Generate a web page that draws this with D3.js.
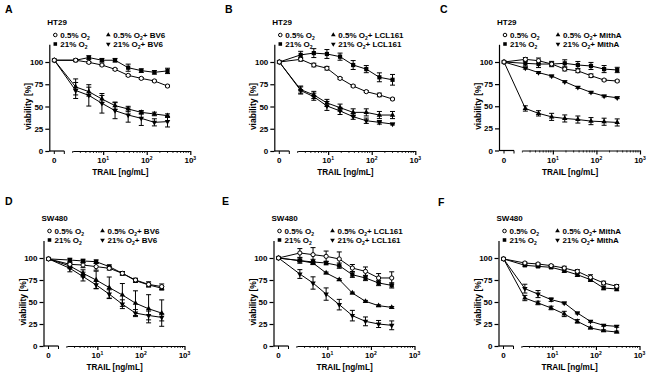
<!DOCTYPE html>
<html>
<head>
<meta charset="utf-8">
<script src="https://cdn.jsdelivr.net/npm/d3@7/dist/d3.min.js"></script>
<style>
  body { margin: 0; background: #fff; }
  svg text { font-family: "Liberation Sans", Arial, sans-serif; font-weight: bold; fill: #000; }
</style>
</head>
<body>
<svg width="650" height="376"></svg>
<script>
// TRAIL doses, ng/mL (0 = untreated)
var doses = [0, 2.34, 4.69, 9.375, 18.75, 37.5, 75, 150, 300];
var yTicks = [0, 25, 50, 75, 100];
var xMajor = [10, 100, 1000];
var xSup = ["1", "2", "3"];

// series order: 0.5% O2, 21% O2, 0.5% O2 + drug, 21% O2 + drug
var meanA = [
  [102, 102, 99.6, 96.6, 91.8, 85, 81.6, 78.7, 73],
  [102, 102, 105, 102, 102, 93.6, 90.3, 88.4, 90],
  [102, 72, 66.7, 58.4, 51, 47.2, 43.4, 41.6, 39.7],
  [102, 68, 62.5, 53.6, 45.3, 40.4, 36.7, 32.2, 33]
];
var errA = [
  [0, 1, 1, 1, 1, 1, 1, 1, 1],
  [0, 1, 2, 2, 2, 4, 2, 2, 3],
  [0, 9, 5, 4, 4, 3, 2, 2, 2],
  [0, 9, 12, 11, 9, 8, 8, 4, 6]
];
var meanB = [
  [100, 103, 96.6, 93, 81.6, 73, 66.7, 63, 58.4],
  [100, 108, 110, 109, 106, 96.6, 92, 82.8, 80],
  [100, 69, 63, 54, 48.7, 43.4, 43.4, 40.4, 40.4],
  [100, 68, 61, 50.6, 45, 38.6, 34, 32.2, 30.3]
];
var errB = [
  [0, 2, 2, 2, 1, 1, 1, 2, 1],
  [0, 4, 5, 5, 4, 5, 4, 5, 6],
  [0, 4, 4, 4, 4, 4, 4, 4, 4],
  [0, 4, 4, 5, 4, 3, 3, 2, 1]
];
var meanC = [
  [100, 103, 101.5, 97.7, 92, 90, 84.5, 79.6, 78.5],
  [100, 98.5, 97.7, 97.7, 98.5, 96.6, 95.5, 92, 91],
  [100, 47.5, 42, 38, 36.2, 35, 33.2, 32.5, 31.7],
  [100, 93, 88, 84.2, 77.7, 71.3, 65.7, 61.5, 59.6]
];
var errC = [
  [0, 2, 3, 2, 2, 2, 2, 1, 1],
  [0, 3, 4, 3, 4, 4, 4, 4, 3],
  [0, 3, 3, 4, 4, 4, 4, 4, 4],
  [0, 1, 1, 1, 1, 1, 1, 1, 1]
];
var meanD = [
  [99, 92.8, 92, 90.2, 88.3, 82.6, 75, 70, 67.5],
  [99, 97.7, 96.6, 95.8, 90.2, 82.6, 74.3, 69.4, 65.7],
  [99, 90.9, 82.6, 75, 66.4, 58, 48.7, 42.3, 37.4],
  [99, 88.3, 78.9, 69.4, 58.9, 47.5, 37.4, 34.7, 32.5]
];
var errD = [
  [0, 2, 3, 4, 2, 2, 2, 3, 3],
  [0, 2, 2, 2, 2, 2, 2, 2, 2],
  [0, 3, 4, 10, 12, 13, 14, 16, 15],
  [0, 4, 5, 4, 5, 5, 4, 5, 4]
];
var meanE = [
  [100, 105.7, 103.8, 101.9, 98.9, 88.6, 84.8, 77.3, 77.3],
  [100, 97, 95.5, 94.3, 91.3, 81, 77.3, 71.6, 68.9],
  [100, 97, 94.3, 83, 75.4, 60.2, 50.8, 45.8, 43.9],
  [100, 81.8, 71.6, 59, 47, 34.5, 28, 25, 23.5]
];
var errE = [
  [0, 5, 8, 6, 8, 4, 5, 5, 7],
  [0, 3, 3, 2, 3, 3, 3, 3, 3],
  [0, 1, 1, 1, 1, 1, 1, 1, 1],
  [0, 5, 7, 7, 6, 6, 5, 4, 5]
];
var meanF = [
  [99, 94.3, 93.2, 91.3, 88.6, 84.8, 78, 71.6, 67.8],
  [99, 91.7, 90.5, 89.4, 85.6, 81, 75.4, 65.9, 64.8],
  [99, 54.5, 48.9, 43.2, 36.4, 28, 20.5, 17.4, 15.9],
  [99, 65.2, 59, 52.7, 48.9, 37.5, 28, 23.5, 22.3]
];
var errF = [
  [0, 1, 1, 1, 2, 2, 3, 2, 2],
  [0, 1, 1, 1, 2, 2, 2, 2, 2],
  [0, 3, 2, 2, 3, 2, 1, 1, 1],
  [0, 5, 4, 2, 1, 1, 1, 1, 1]
];

var panels = [
  {id: "A", cell: "HT29", drug: "BV6", mean: meanA, err: errA, x0: 49.3, y100: 62, y0: 151, lx: 5, ly: 13},
  {id: "B", cell: "HT29", drug: "LCL161", mean: meanB, err: errB, x0: 274.3, y100: 62, y0: 151, lx: 225, ly: 13},
  {id: "C", cell: "HT29", drug: "MithA", mean: meanC, err: errC, x0: 499, y100: 62, y0: 150.5, lx: 440, ly: 13},
  {id: "D", cell: "SW480", drug: "BV6", mean: meanD, err: errD, x0: 43.5, y100: 258, y0: 346, lx: 5, ly: 205},
  {id: "E", cell: "SW480", drug: "LCL161", mean: meanE, err: errE, x0: 273.5, y100: 258, y0: 346, lx: 222, ly: 205},
  {id: "F", cell: "SW480", drug: "MithA", mean: meanF, err: errF, x0: 498.5, y100: 258, y0: 346, lx: 438, ly: 206}
];

var svg = d3.select("svg");

function marker(g, k, x, y, s) {
    if (k == 0) {
        g.append("circle").attr("cx", x).attr("cy", y).attr("r", 2.1 * s)
            .attr("fill", "#fff").attr("stroke", "#000").attr("stroke-width", 1);
    } else if (k == 1) {
        g.append("rect").attr("x", x - 2.1 * s).attr("y", y - 2.1 * s)
            .attr("width", 4.2 * s).attr("height", 4.2 * s).attr("fill", "#000");
    } else {
        g.append("path")
            .attr("d", d3.symbol().type(d3.symbolTriangle).size(13 * s * s)())
            .attr("transform", "translate(" + x + "," + y + ")" + (k == 3 ? " rotate(180)" : ""))
            .attr("fill", "#000");
    }
}

function legendText(g, x, y, pre, post) {
    var t = g.append("text").attr("x", x).attr("y", y).attr("font-size", 8);
    t.append("tspan").text(pre);
    t.append("tspan").attr("font-size", 5).attr("dy", 2).text("2");
    t.append("tspan").attr("dy", -2).text(post);
}

panels.forEach(function (p) {
    var g = svg.append("g");

    var y = d3.scaleLinear().domain([0, 120])
        .range([p.y0, p.y0 - 1.2 * (p.y0 - p.y100)]);
    var xLog = d3.scaleLog().domain([2, 1000]).range([p.x0 + 23.4, p.x0 + 141]);
    var xZero = p.x0 + 5;
    function xPos(d) { return d === 0 ? xZero : xLog(d); }

    // y axis
    var yAxis = g.append("g").attr("transform", "translate(" + p.x0 + ",0)")
        .call(d3.axisLeft(y).tickValues(yTicks).tickSize(4).tickSizeOuter(0).tickPadding(2));
    yAxis.selectAll("text").attr("font-size", 8).attr("font-family", null).attr("font-weight", "bold");
    yAxis.selectAll("path,line").attr("stroke", "#000").attr("stroke-width", 1.2);

    // x axis, zero segment
    g.append("line").attr("x1", p.x0).attr("x2", p.x0 + 15).attr("y1", p.y0).attr("y2", p.y0)
        .attr("stroke", "#000").attr("stroke-width", 1.2);
    [xZero, p.x0 + 15].forEach(function (v) {
        g.append("line").attr("x1", v).attr("x2", v).attr("y1", p.y0).attr("y2", p.y0 + 3)
            .attr("stroke", "#000").attr("stroke-width", 1);
    });
    g.append("text").attr("x", xZero).attr("y", p.y0 + 12).attr("text-anchor", "middle")
        .attr("font-size", 8).text("0");

    // x axis, log segment
    var xAxis = g.append("g").attr("transform", "translate(0," + p.y0 + ")")
        .call(d3.axisBottom(xLog).tickValues(xMajor).tickSize(4).tickSizeOuter(0).tickFormat(""));
    xAxis.selectAll("path,line").attr("stroke", "#000").attr("stroke-width", 1.2);
    var minor = xLog.ticks().filter(function (v) { return xMajor.indexOf(v) < 0; });
    g.selectAll(".minor").data(minor).enter().append("line")
        .attr("x1", xLog).attr("x2", xLog).attr("y1", p.y0).attr("y2", p.y0 + 2)
        .attr("stroke", "#000").attr("stroke-width", 0.8);
    xMajor.forEach(function (v, i) {
        var t = g.append("text").attr("x", xLog(v)).attr("y", p.y0 + 12)
            .attr("text-anchor", "middle").attr("font-size", 8);
        t.append("tspan").text("10");
        t.append("tspan").attr("font-size", 5).attr("dy", -3).text(xSup[i]);
    });

    // axis titles
    g.append("text").attr("x", p.x0 + 71).attr("y", p.y0 + 24).attr("text-anchor", "middle")
        .attr("font-size", 8.2).text("TRAIL [ng/mL]");
    g.append("text").attr("transform", "translate(" + (p.x0 - 18) + "," + y(50) + ") rotate(-90)")
        .attr("text-anchor", "middle").attr("font-size", 8.5).text("viability [%]");

    // panel letter and cell line
    g.append("text").attr("x", p.lx).attr("y", p.ly).attr("font-size", 10.5).text(p.id);
    g.append("text").attr("x", p.x0 - 2).attr("y", p.y100 - 37.5).attr("font-size", 8).text(p.cell);

    // legend
    var rows = [p.y100 - 27, p.y100 - 18];
    var cols = [p.x0 + 6, p.x0 + 59];
    var labels = [["0.5% O", ""], ["21% O", ""], ["0.5% O", "+ " + p.drug], ["21% O", "+ " + p.drug]];
    labels.forEach(function (lab, k) {
        var cx = cols[Math.floor(k / 2)], cy = rows[k % 2];
        marker(g, k, cx, cy, 0.85);
        legendText(g, cx + 5, cy + 2.8, lab[0], lab[1]);
    });

    // series
    var line = d3.line().x(function (d) { return xPos(d[0]); }).y(function (d) { return y(d[1]); });
    p.mean.forEach(function (vals) {
        g.append("path").datum(d3.zip(doses, vals)).attr("d", line)
            .attr("fill", "none").attr("stroke", "#000").attr("stroke-width", 1);
    });
    p.mean.forEach(function (vals, k) {
        vals.forEach(function (v, i) {
            var e = p.err[k][i];
            if (!e) return;
            var x = xPos(doses[i]);
            g.append("line").attr("x1", x).attr("x2", x).attr("y1", y(v - e)).attr("y2", y(v + e))
                .attr("stroke", "#000").attr("stroke-width", 1);
            [v - e, v + e].forEach(function (c) {
                g.append("line").attr("x1", x - 2.5).attr("x2", x + 2.5).attr("y1", y(c)).attr("y2", y(c))
                    .attr("stroke", "#000").attr("stroke-width", 1);
            });
        });
    });
    [1, 3, 2, 0].forEach(function (k) {
        p.mean[k].forEach(function (v, i) { marker(g, k, xPos(doses[i]), y(v), 1); });
    });
});
</script>
</body>
</html>
